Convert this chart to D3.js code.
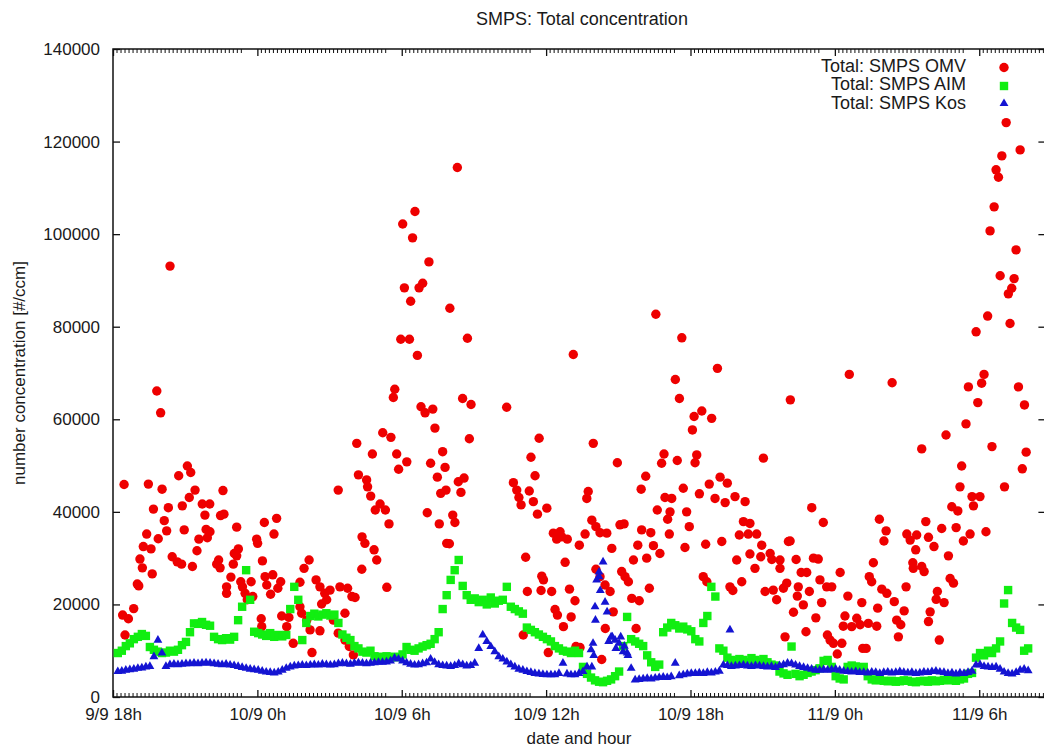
<!DOCTYPE html>
<html>
<head>
<meta charset="utf-8">
<script src="https://cdn.jsdelivr.net/npm/d3@7"></script>
<style>
  body { margin: 0; background: #fff; }
  text { font-family: "Liberation Sans", Arial, sans-serif; fill: #1a1a1a; }
</style>
</head>
<body>
<svg id="chart" width="1044" height="749"></svg>
<script>
// ── Data ─────────────────────────────────────────────────────────────────────
// hours since 9/9 18h, concentrations in thousands of #/ccm

const xTickHours = [0, 6, 12, 18, 24, 30, 36];
const xTickLabels = ["9/9 18h", "10/9 0h", "10/9 6h", "10/9 12h", "10/9 18h", "11/9 0h", "11/9 6h"];
const yTicks = [0, 20000, 40000, 60000, 80000, 100000, 120000, 140000];
const seriesNames = ["Total: SMPS OMV", "Total: SMPS AIM", "Total: SMPS Kos"];

// AIM and Kos share a 10 minute sampling grid starting at 18:12
const gridStart = 0.2;
const gridStep = 1 / 6;

const aimValues = [
  9.5, 10.0, 11.0, 11.6, 12.5, 13.0, 13.6, 13.2, 10.8, 10.2, 9.8, 9.5,
  9.6, 10.0, 9.8, 10.2, 11.2, 11.9, 14.0, 15.9, 15.8, 16.2, 15.6, 15.4,
  13.0, 12.5, 12.3, 12.7, 12.4, 13.0, 16.6, 19.5, 27.4, 21.0, 14.1, 13.8,
  13.5, 13.2, 13.8, 13.0, 13.4, 13.1, 13.4, 19.0, 23.8, 21.0, 12.3, 16.0,
  17.5, 18.0, 17.4, 17.8, 18.1, 17.6, 17.8, 16.0, 13.5, 12.8, 12.3, 11.0,
  10.5, 9.8, 9.6, 10.0, 8.8, 8.7, 8.6, 8.8, 8.5, 8.7, 8.6, 9.2,
  10.8, 10.2, 10.0, 10.5, 10.9, 11.2, 11.5, 12.5, 14.0, 19.0, 22.0, 25.3,
  27.4, 29.6, 24.0, 22.0, 21.0, 21.3, 20.5, 21.0, 20.0, 21.5, 20.2, 20.8,
  21.0, 23.8, 19.5, 19.0, 18.5, 18.0, 15.0, 14.5, 14.0, 13.5, 13.0, 12.5,
  12.0, 11.0, 10.5, 10.0, 9.8, 9.5, 10.0, 9.5, 6.5, 5.0, 4.2, 3.6,
  3.3, 3.2, 3.5, 3.8, 4.5, 5.5, 11.0, 17.3, 12.5, 12.0, 11.5, 11.0,
  9.0, 7.5, 6.5, 7.0, 14.0, 15.0, 16.0, 15.5, 14.8, 15.2, 14.6, 14.2,
  12.5, 12.0, 16.0, 17.5, 23.8, 21.7, 10.5, 10.0, 8.5, 8.0, 7.8, 8.2,
  8.0, 7.5, 8.4, 8.0, 7.6, 8.2, 7.5, 7.0, 6.8, 5.5, 5.1, 4.8,
  10.9, 5.0, 4.5, 4.8, 5.2, 5.5, 5.8, 6.2, 7.8, 8.0, 6.5, 4.5,
  4.0, 3.8, 6.5, 6.8, 6.6, 6.4, 6.5, 4.5, 3.8, 3.6, 3.7, 3.5,
  3.4, 3.5, 3.3, 3.4, 3.6, 3.5, 3.3, 3.2, 3.4, 3.5, 3.3, 3.6,
  3.4, 3.5, 3.7, 3.6, 3.8, 3.5, 3.8, 4.0, 5.0, 5.2, 8.5, 9.5,
  9.0, 10.0, 9.5, 10.5, 12.0, 20.2, 23.1, 16.0, 15.0, 14.5, 10.0, 10.5
];

const kosValues = [
  5.5, 5.6, 5.8, 5.9, 6.0, 6.2, 6.3, 6.5, 6.6, 8.7, 12.3, 9.5,
  6.6, 7.0, 7.1, 7.0, 7.1, 7.2, 7.2, 7.3, 7.2, 7.3, 7.4, 7.3,
  7.2, 7.1, 7.0, 7.1, 6.9, 6.8, 6.6, 6.4, 6.2, 6.0, 5.9, 5.8,
  5.6, 5.4, 5.3, 5.2, 5.4, 5.8, 6.2, 6.5, 6.7, 6.8, 6.9, 6.8,
  6.9, 7.0, 6.9, 7.1, 7.0, 6.9, 7.0, 7.2, 7.3, 7.2, 7.1, 7.3,
  7.4, 7.3, 7.2, 7.3, 7.4, 7.5, 7.5, 7.6, 7.8, 8.4, 8.2, 7.8,
  7.4, 7.1, 6.9, 7.0, 7.2, 7.4, 8.2, 7.5, 7.0, 6.8, 6.7, 6.6,
  6.8, 7.2, 7.0, 6.7, 6.8, 7.3, 10.5, 13.4, 12.0, 10.9, 9.8, 8.7,
  8.2, 7.6, 7.0, 6.5, 6.0, 5.8, 5.5, 5.3, 5.1, 5.0, 4.9, 4.8,
  4.8, 4.8, 5.1, 7.3, 5.0, 4.8, 4.8, 5.1, 5.5, 6.5, 10.2, 19.5,
  26.0, 29.2, 18.4, 13.0, 12.3, 11.6, 9.8, 9.5, 6.2, 3.7, 3.8, 3.9,
  4.0, 3.9, 4.1, 4.2, 4.3, 4.2, 4.4, 7.3, 4.6, 4.8, 5.0, 5.1,
  5.1, 5.2, 5.1, 5.3, 5.2, 5.4, 5.6, 6.9, 6.8, 6.6, 6.7, 6.8,
  6.9, 6.7, 6.6, 6.8, 6.7, 6.6, 6.5, 6.6, 6.4, 6.8, 7.0, 7.3,
  7.2, 6.9, 6.6, 6.4, 6.2, 6.0, 5.8, 5.8, 5.9, 5.8, 5.9, 6.0,
  5.8, 5.6, 5.5, 5.4, 5.5, 5.3, 5.3, 5.2, 5.4, 5.3, 5.1, 5.3,
  5.4, 5.2, 5.3, 5.5, 5.3, 5.2, 5.3, 5.1, 5.2, 5.4, 5.3, 5.5,
  5.6, 5.4, 5.3, 5.1, 5.2, 5.0, 5.2, 5.1, 5.3, 5.6, 6.9, 7.0,
  6.6, 6.5, 6.4, 6.5, 6.0, 5.4, 5.1, 5.0, 5.3, 5.8, 6.0, 5.7
];

// extra Kos scans during the fast event around 10/9 14h
const kosExtra = [
  [19.9, 6.5], [19.95, 11.6], [19.98, 9.0], [20.05, 16.6], [20.1, 25.3], [20.2, 27.0],
  [20.25, 23.0], [20.45, 20.5], [20.6, 12.0], [20.75, 13.0], [20.9, 10.5], [21.1, 13.0],
  [21.25, 11.0], [21.4, 9.0], [25.64, 14.5]
];

// OMV scans: [hour, value]
const omvPoints = [
  [0.46, 45.9], [1.82, 66.1], [1.98, 61.4], [1.47, 46.0], [2.04, 44.9], [1.68, 40.6], [2.30, 40.9],
  [2.13, 38.1], [2.23, 35.9], [1.88, 34.2], [1.40, 35.2], [1.26, 32.5], [1.58, 32.0], [1.12, 29.8],
  [1.22, 27.9], [1.63, 26.6], [1.01, 24.4], [1.07, 24.0], [2.73, 47.8], [3.09, 49.9], [3.23, 48.5],
  [3.41, 44.7], [3.17, 43.1], [2.88, 41.3], [2.96, 36.1], [2.46, 30.3], [2.67, 29.2], [2.85, 28.7],
  [3.30, 28.2], [3.49, 31.6], [3.57, 34.1], [3.92, 34.4], [3.87, 36.2], [4.03, 35.7], [3.71, 41.7],
  [4.02, 41.7], [3.82, 39.3], [4.47, 39.2], [4.61, 39.5], [4.57, 44.6], [5.14, 36.7], [4.31, 28.7],
  [4.45, 27.9], [4.39, 29.6], [5.00, 28.7], [5.14, 30.5], [5.04, 31.0], [5.21, 32.0], [4.90, 25.9],
  [4.72, 23.8], [4.72, 22.4], [5.31, 24.9], [5.38, 23.8], [5.49, 22.4], [5.74, 24.9], [5.58, 21.0],
  [5.81, 21.7], [0.40, 17.7], [0.64, 16.9], [0.86, 19.1], [0.50, 13.4], [5.97, 34.1], [6.01, 33.2],
  [6.29, 37.7], [6.80, 38.6], [6.69, 35.2], [6.21, 29.4], [6.32, 26.0], [6.64, 26.4], [6.39, 24.2],
  [6.55, 22.2], [6.97, 24.9], [6.85, 23.5], [7.01, 17.5], [7.22, 15.2], [7.49, 11.6], [7.77, 24.8],
  [7.94, 27.8], [8.15, 29.6], [7.77, 19.5], [7.84, 18.1], [8.05, 16.6], [8.19, 14.5], [8.44, 25.3],
  [8.60, 23.8], [8.80, 22.4], [8.88, 21.0], [9.02, 23.1], [8.67, 20.1], [8.27, 9.6], [8.60, 14.3],
  [9.43, 23.8], [9.75, 23.5], [9.93, 21.7], [10.06, 21.5], [9.16, 16.6], [9.64, 18.1], [9.36, 13.8],
  [9.64, 12.3], [9.99, 9.1], [9.82, 10.9], [6.16, 16.9], [6.18, 15.2], [7.31, 17.2], [10.13, 54.8],
  [10.20, 48.0], [10.54, 46.9], [10.58, 45.4], [10.71, 43.4], [10.78, 52.5], [10.90, 40.4], [11.10, 41.7],
  [11.32, 40.4], [11.21, 57.1], [11.55, 56.1], [11.47, 37.4], [11.79, 52.5], [11.87, 49.2], [12.21, 50.8],
  [11.65, 64.7], [11.71, 66.5], [10.35, 34.6], [10.47, 33.2], [10.85, 31.8], [10.96, 29.6], [10.34, 27.6],
  [11.38, 23.7], [9.36, 44.7], [12.80, 62.7], [12.97, 61.4], [13.29, 62.2], [13.38, 58.1], [13.20, 50.5],
  [13.70, 53.0], [13.80, 49.6], [13.48, 47.5], [13.62, 44.0], [13.84, 44.7], [13.06, 39.8], [13.56, 37.4],
  [13.87, 33.2], [2.37, 93.1], [12.04, 102.2], [12.55, 104.9], [12.45, 99.2], [13.13, 94.0], [12.11, 88.4],
  [12.72, 88.4], [12.87, 89.4], [12.37, 85.5], [11.96, 77.3], [12.32, 77.3], [12.65, 73.8], [14.0, 84.0],
  [14.31, 114.4], [14.73, 77.5], [19.13, 74.0], [22.56, 82.7], [23.64, 77.6], [23.37, 68.6], [25.12, 71.0],
  [14.53, 64.5], [14.88, 63.2], [14.81, 55.8], [14.59, 47.3], [14.35, 46.5], [14.46, 44.2], [14.12, 39.3],
  [14.21, 37.7], [13.98, 33.1], [16.36, 62.6], [17.37, 51.8], [17.71, 55.9], [17.54, 47.8], [16.64, 46.3],
  [16.78, 44.7], [16.87, 43.1], [16.96, 41.5], [17.30, 44.5], [17.47, 42.2], [17.64, 39.5], [18.03, 40.8],
  [17.15, 30.2], [18.30, 35.4], [18.58, 35.7], [18.65, 34.6], [18.88, 34.1], [18.44, 34.1], [19.38, 32.8],
  [19.62, 35.2], [18.79, 29.1], [19.75, 44.4], [19.69, 42.9], [19.96, 54.8], [19.90, 38.2], [20.07, 36.8],
  [20.24, 35.5], [20.52, 35.4], [20.73, 32.1], [20.96, 50.6], [21.07, 37.2], [21.24, 37.4], [17.22, 22.8],
  [17.82, 26.1], [17.89, 25.3], [17.79, 23.0], [18.23, 22.8], [18.37, 18.9], [18.47, 17.7], [18.72, 15.2],
  [19.04, 17.3], [18.97, 23.3], [19.20, 20.8], [17.05, 13.4], [18.09, 9.6], [19.24, 10.9], [19.41, 10.7],
  [20.07, 27.6], [20.24, 26.0], [20.45, 24.2], [20.66, 22.8], [20.79, 18.4], [20.46, 14.8], [20.31, 8.1],
  [21.14, 27.1], [21.28, 26.0], [21.42, 24.9], [21.56, 21.3], [21.87, 20.8], [21.74, 14.8], [22.29, 23.5],
  [21.63, 29.6], [21.81, 32.8], [21.97, 36.1], [22.18, 30.0], [22.35, 35.5], [22.46, 32.7], [22.73, 31.0],
  [22.14, 47.7], [21.95, 44.9], [22.62, 40.4], [22.90, 52.5], [22.80, 50.5], [22.94, 43.1], [23.22, 42.9],
  [23.15, 40.0], [23.05, 38.4], [23.12, 35.2], [23.45, 51.1], [23.70, 45.1], [23.84, 40.0], [23.95, 36.8],
  [23.77, 32.3], [24.26, 52.3], [24.19, 50.6], [24.08, 57.7], [24.15, 60.6], [24.47, 61.8], [24.88, 60.2],
  [23.54, 64.5], [24.37, 43.9], [24.63, 33.0], [24.78, 46.0], [25.23, 47.5], [25.02, 42.9], [25.44, 42.0],
  [25.53, 46.2], [25.30, 33.6], [24.53, 26.0], [24.68, 24.9], [25.85, 43.3], [26.27, 42.2], [25.92, 29.6],
  [25.64, 23.8], [25.76, 23.0], [26.13, 24.9], [26.03, 35.0], [26.20, 37.9], [26.47, 37.5], [26.40, 35.2],
  [26.75, 35.2], [26.47, 30.9], [26.68, 27.8], [26.92, 30.3], [26.96, 32.8], [27.31, 31.0], [27.38, 29.7],
  [27.72, 29.6], [27.72, 27.8], [27.03, 51.6], [27.10, 22.8], [27.44, 23.1], [27.58, 21.0], [27.86, 23.5],
  [27.93, 13.0], [28.07, 33.6], [28.15, 64.2], [32.38, 67.9], [35.55, 67.0], [36.10, 67.8], [35.94, 63.6],
  [37.63, 67.0], [37.88, 63.1], [35.45, 59.0], [34.62, 56.6], [33.61, 53.6], [36.53, 54.1], [37.95, 52.9],
  [35.27, 49.9], [37.79, 49.3], [35.20, 45.4], [37.05, 45.4], [35.70, 43.3], [36.03, 43.3], [35.76, 41.3],
  [34.86, 41.1], [35.11, 40.2], [29.04, 40.9], [29.52, 37.7], [31.85, 38.4], [32.13, 35.9], [32.04, 33.7],
  [33.78, 37.9], [34.44, 36.4], [35.04, 36.6], [35.62, 35.2], [35.34, 33.7], [36.28, 35.7], [32.99, 35.2],
  [33.13, 33.9], [33.40, 35.0], [33.89, 34.5], [34.12, 32.5], [33.36, 31.8], [34.72, 30.5], [28.14, 33.7],
  [28.39, 29.7], [29.11, 30.0], [29.31, 29.8], [31.60, 29.0], [33.24, 29.0], [33.26, 27.8], [33.61, 28.2],
  [33.71, 27.1], [34.79, 25.6], [34.93, 24.6], [28.60, 26.9], [28.83, 26.9], [30.22, 26.9], [31.43, 26.0],
  [31.53, 24.9], [29.38, 25.3], [29.66, 23.8], [29.87, 23.8], [28.00, 24.6], [28.48, 23.8], [28.94, 22.8],
  [28.44, 21.8], [31.95, 23.3], [32.16, 22.4], [32.47, 20.6], [32.96, 23.8], [34.26, 22.8], [34.21, 21.1],
  [34.54, 20.4], [30.54, 21.8], [31.12, 20.4], [31.78, 19.2], [32.88, 18.6], [29.45, 20.4], [28.28, 18.3],
  [28.69, 19.9], [29.21, 17.1], [30.42, 17.5], [30.35, 15.3], [30.70, 15.2], [30.91, 17.0], [31.05, 15.6],
  [31.39, 15.9], [31.74, 15.3], [32.57, 16.6], [32.74, 15.6], [32.64, 13.0], [33.96, 18.4], [33.89, 16.3],
  [34.34, 12.3], [28.80, 14.1], [29.69, 13.4], [29.80, 12.3], [29.94, 11.6], [30.29, 11.6], [30.10, 9.3],
  [31.16, 10.5], [31.30, 10.5], [37.12, 124.1], [37.70, 118.2], [36.94, 116.9], [36.70, 113.9], [36.80, 112.3],
  [36.62, 105.9], [36.45, 100.7], [37.53, 96.6], [36.87, 91.0], [37.45, 90.4], [37.35, 88.3], [37.21, 87.1],
  [36.35, 82.3], [37.28, 80.7], [35.87, 78.9], [30.60, 69.7], [36.20, 69.7]
];

// ── Layout ───────────────────────────────────────────────────────────────────

const COLORS = ["#ee0000", "#11ee11", "#1414d2"];
const svg = d3.select("#chart");

const x = d3.scaleLinear().domain([0, 38.75]).range([113, 1045.4]);
const y = d3.scaleLinear().domain([0, 140000]).range([697, 49]);
const [plotLeft, plotRight] = x.range();
const [plotBottom, plotTop] = y.range();

const gridSeries = (values) => values.map((v, i) => [gridStart + i * gridStep, v]);
const aimPoints = gridSeries(aimValues);
const kosPoints = gridSeries(kosValues).concat(kosExtra);

// ── Title ────────────────────────────────────────────────────────────────────

svg.append("text")
  .attr("x", 582).attr("y", 25)
  .attr("text-anchor", "middle")
  .attr("font-size", 18)
  .text("SMPS: Total concentration");

// ── Axes ─────────────────────────────────────────────────────────────────────

const styleAxis = (g) => {
  g.select(".domain").remove();
  g.selectAll("line").attr("stroke", "#111").attr("stroke-width", 1.3);
  g.selectAll("text").attr("font-size", 17).attr("fill", "#1a1a1a")
    .attr("font-family", "'Liberation Sans', Arial, sans-serif");
};

svg.append("g")
  .attr("transform", `translate(0,${plotBottom})`)
  .call(d3.axisBottom(x).tickValues(xTickHours).tickFormat((d, i) => xTickLabels[i])
    .tickSizeInner(-7).tickSizeOuter(0).tickPadding(11))
  .call(styleAxis);

svg.append("g")
  .attr("transform", `translate(0,${plotTop})`)
  .call(d3.axisTop(x).tickValues(xTickHours).tickFormat("")
    .tickSizeInner(-7).tickSizeOuter(0))
  .call(styleAxis);

svg.append("g")
  .attr("transform", `translate(${plotLeft},0)`)
  .call(d3.axisLeft(y).tickValues(yTicks).tickFormat(d3.format("d"))
    .tickSizeInner(-7).tickSizeOuter(0).tickPadding(13))
  .call(styleAxis);

svg.append("g")
  .attr("transform", `translate(${plotRight},0)`)
  .call(d3.axisRight(y).tickValues(yTicks).tickFormat("")
    .tickSizeInner(-7).tickSizeOuter(0))
  .call(styleAxis);

// minor ticks: every 10 minutes for the first 5h20 after each major tick
const minorHours = [];
xTickHours.forEach((h) => {
  for (let m = 1; m <= 32; m++) {
    const t = h + m / 6;
    if (t < x.domain()[1]) minorHours.push(t);
  }
});

const minor = svg.append("g").attr("stroke", "#111").attr("stroke-width", 1);
minor.selectAll("line.mb").data(minorHours).join("line").attr("class", "mb")
  .attr("x1", (d) => x(d)).attr("x2", (d) => x(d))
  .attr("y1", plotBottom).attr("y2", plotBottom - 4);
minor.selectAll("line.mt").data(minorHours).join("line").attr("class", "mt")
  .attr("x1", (d) => x(d)).attr("x2", (d) => x(d))
  .attr("y1", plotTop).attr("y2", plotTop + 4);

svg.append("rect")
  .attr("x", plotLeft).attr("y", plotTop)
  .attr("width", plotRight - plotLeft).attr("height", plotBottom - plotTop)
  .attr("fill", "none").attr("stroke", "#111").attr("stroke-width", 1.5);

// axis titles
svg.append("text")
  .attr("x", 579).attr("y", 744)
  .attr("text-anchor", "middle").attr("font-size", 17)
  .text("date and hour");

svg.append("text")
  .attr("transform", `translate(25,${(plotTop + plotBottom) / 2}) rotate(-90)`)
  .attr("text-anchor", "middle").attr("font-size", 17)
  .text("number concentration [#/ccm]");

// ── Marks ────────────────────────────────────────────────────────────────────

const triangle = d3.symbol().type(d3.symbolTriangle).size(34);

const drawCircles = (g, data, color) => g.selectAll("circle").data(data).join("circle")
  .attr("cx", (d) => x(d[0])).attr("cy", (d) => y(d[1] * 1000))
  .attr("r", 4.7).attr("fill", color);

const drawSquares = (g, data, color) => g.selectAll("rect").data(data).join("rect")
  .attr("x", (d) => x(d[0]) - 4.2).attr("y", (d) => y(d[1] * 1000) - 4.2)
  .attr("width", 8.4).attr("height", 8.4).attr("fill", color);

const drawTriangles = (g, data, color) => g.selectAll("path").data(data).join("path")
  .attr("d", triangle)
  .attr("transform", (d) => `translate(${x(d[0])},${y(d[1] * 1000)})`)
  .attr("fill", color);

drawCircles(svg.append("g"), omvPoints, COLORS[0]);
drawSquares(svg.append("g"), aimPoints, COLORS[1]);
drawTriangles(svg.append("g"), kosPoints, COLORS[2]);

// ── Legend ───────────────────────────────────────────────────────────────────

const legendRows = [71.5, 90, 108.5];
const legend = svg.append("g");

legend.selectAll("text").data(seriesNames).join("text")
  .attr("x", 966).attr("y", (d, i) => legendRows[i])
  .attr("text-anchor", "end").attr("font-size", 18)
  .text((d) => d);

drawCircles(legend.append("g"), [[x.invert(1004), y.invert(legendRows[0] - 4) / 1000]], COLORS[0]);
drawSquares(legend.append("g"), [[x.invert(1004), y.invert(legendRows[1] - 4) / 1000]], COLORS[1]);
drawTriangles(legend.append("g"), [[x.invert(1004), y.invert(legendRows[2] - 5) / 1000]], COLORS[2]);
</script>
</body>
</html>
